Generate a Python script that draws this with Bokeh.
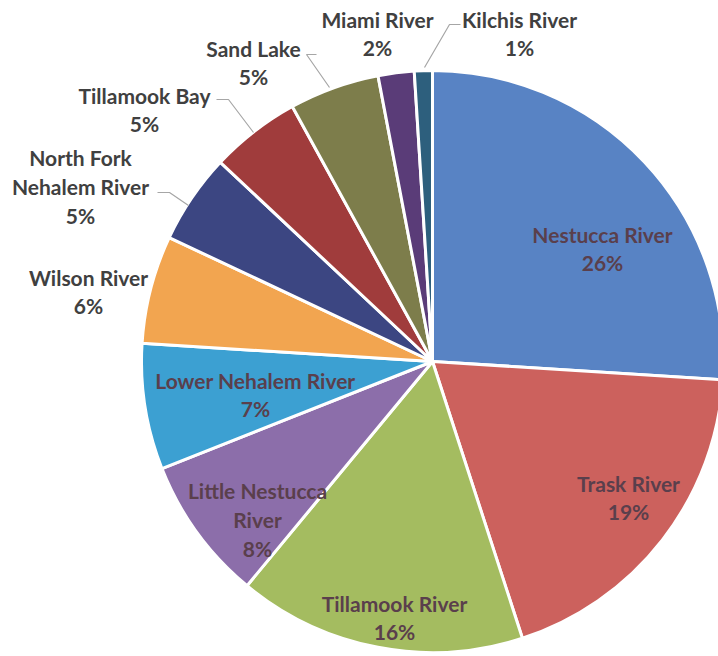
import math
from bokeh.plotting import figure
from bokeh.models import ColumnDataSource, Range1d
from bokeh.core.properties import value
from bokeh.embed import file_html
from bokeh.resources import INLINE

# ---- data ----
rivers = ["Nestucca River", "Trask River", "Tillamook River", "Little Nestucca River",
          "Lower Nehalem River", "Wilson River", "North Fork Nehalem River",
          "Tillamook Bay", "Sand Lake", "Miami River", "Kilchis River"]
shares = [26, 19, 16, 8, 7, 6, 5, 5, 5, 2, 1]
label_names = ["Nestucca River", "Trask River", "Tillamook River", "Little Nestucca\nRiver",
               "Lower Nehalem River", "Wilson River", "North Fork\nNehalem River",
               "Tillamook Bay", "Sand Lake", "Miami River", "Kilchis River"]
colors = ["#5883c4", "#cc615d", "#a4bc60", "#8c6eaa", "#3ca0d2", "#f2a550",
          "#3c4682", "#a03c3c", "#7d7d4b", "#5a3c78", "#2d5f7d"]
inside = [True, True, True, True, True, False, False, False, False, False, False]

# ---- layout (pixel coordinates, y measured from top) ----
W, H = 718, 656
CX, CY, R = 432, 361, 291
label_pos = [(602, 248), (628, 497), (394, 617), (257, 519), (255, 394),
             (88, 291), (80, 186), (144, 109), (253, 62), (377, 33), (519, 33)]
leaders = [
    ([460, 449, 424], [24, 24, 67]),
    ([316, 306, 329], [54, 54, 87]),
    ([216, 228, 253], [99, 99, 132]),
    ([157, 169, 188], [192, 192, 205]),
]

total = sum(shares)
starts, ends = [], []
acc = 0.0
for v in shares:
    a0 = acc / total
    acc += v
    a1 = acc / total
    starts.append(math.pi / 2 - a1 * 2 * math.pi)
    ends.append(math.pi / 2 - a0 * 2 * math.pi)

src = ColumnDataSource(dict(start=starts, end=ends, color=colors, name=rivers))

p = figure(width=W, height=H, x_range=Range1d(0, W), y_range=Range1d(0, H),
           output_backend="svg", toolbar_location=None, min_border=0,
           x_axis_location=None, y_axis_location=None)
p.grid.visible = False
p.outline_line_color = None
p.background_fill_color = "white"

p.wedge(x=CX, y=H - CY, radius=R, start_angle="start", end_angle="end",
        fill_color="color", line_color="white", line_width=3, source=src)

for xs, ys in leaders:
    p.line(xs, [H - y for y in ys], line_color="#a6a6a6", line_width=1.2)

texts = [f"{n}\n{v}%" for n, v in zip(label_names, shares)]
lx = [pos[0] for pos in label_pos]
ly = [H - pos[1] for pos in label_pos]
tcol = ["#5a3f4c" if i else "#404040" for i in inside]
p.text(x=lx, y=ly, text=texts, text_color=tcol, text_align="center",
       text_baseline="middle", text_font=value("Lato"), text_font_style="bold",
       text_font_size="21px", text_line_height=1.15)

open("out.html", "w").write(file_html(p, INLINE))
